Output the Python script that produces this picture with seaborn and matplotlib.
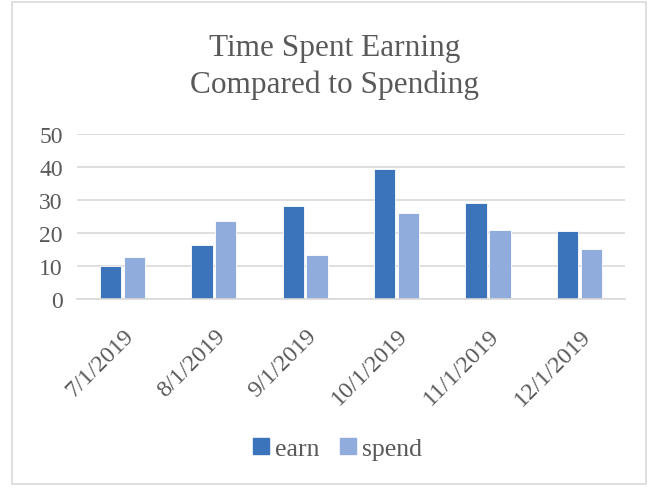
import seaborn as sns
import matplotlib.pyplot as plt
import matplotlib.patches as mpatches
import matplotlib.transforms as mtransforms
import pandas as pd

months = ["7/1/2019", "8/1/2019", "9/1/2019", "10/1/2019", "11/1/2019", "12/1/2019"]
earn = [10.0, 16.4, 28.0, 39.3, 29.2, 20.7]
spend = [12.8, 23.5, 13.2, 25.9, 20.9, 15.2]

colors = {"earn": "#3C74BB", "spend": "#90ACDD"}
text_color = "#595959"
grid_color = "#D9D9D9"

df = pd.DataFrame({"month": months * 2,
                   "series": ["earn"] * len(months) + ["spend"] * len(months),
                   "value": earn + spend})

sns.set_style("white")
plt.rcParams["font.family"] = ["Liberation Serif", "DejaVu Serif"]

fig = plt.figure(figsize=(6.56, 4.89), dpi=100)
ax = fig.add_axes([0.117, 0.387, 0.836, 0.337])

sns.barplot(data=df, x="month", y="value", hue="series", palette=colors,
            width=0.52, gap=0.1, saturation=1, edgecolor="white", linewidth=0.6,
            legend=False, ax=ax)

ax.set_ylim(0, 50)
ax.set_xlim(-0.5, len(months) - 0.5)
ax.set_yticks(range(0, 51, 10))
ax.yaxis.grid(True, color=grid_color, linewidth=1.2)
ax.set_axisbelow(True)
for s in ["top", "right", "left"]:
    ax.spines[s].set_visible(False)
ax.spines["bottom"].set_color(grid_color)
ax.spines["bottom"].set_linewidth(1.2)
ax.set_xlabel("")
ax.set_ylabel("")

# category boundary ticks like Excel
ax.set_xticks([i - 0.5 for i in range(len(months) + 1)], minor=True)
ax.tick_params(axis="x", which="minor", length=6, color=grid_color, width=1.2, direction="out")
ax.tick_params(axis="x", which="major", length=0, pad=24)
ax.tick_params(axis="y", length=0, pad=10)
ax.set_xticks(range(len(months)))
ax.set_xticklabels(months, rotation=45, ha="right", va="center",
                   rotation_mode="anchor", fontsize=17.5, color=text_color)
shift = mtransforms.ScaledTranslation(8 / 100, 0, fig.dpi_scale_trans)
for lab in ax.get_xticklabels():
    lab.set_transform(lab.get_transform() + shift)
for lab in ax.get_yticklabels():
    lab.set_fontsize(17)
    lab.set_color(text_color)

fig.text(0.51, 1 - 67 / 489, "Time Spent Earning\nCompared to Spending",
         ha="center", va="center", fontsize=22.5, color=text_color, linespacing=1.35)

handles = [mpatches.Patch(color=colors[k], label=k) for k in ["earn", "spend"]]
fig.legend(handles=handles, loc="center", bbox_to_anchor=(0.515, 1 - 450 / 489),
           ncol=2, frameon=False, fontsize=18.5, labelcolor=text_color,
           handlelength=0.6, handleheight=0.6, handletextpad=0.25, columnspacing=0.8)

fig.patches.append(mpatches.Rectangle((12 / 656, 4 / 489), 634 / 656, 482 / 489,
                                      transform=fig.transFigure, fill=False,
                                      edgecolor=grid_color, linewidth=1.2))

fig.savefig("out.png", dpi=100)
